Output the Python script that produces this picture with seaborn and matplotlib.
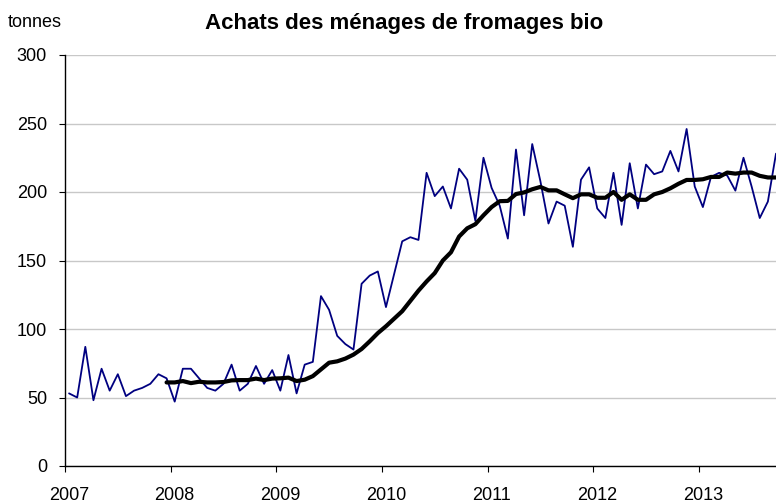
import numpy as np
import pandas as pd
import matplotlib
matplotlib.use("Agg")
import matplotlib.pyplot as plt
import matplotlib.transforms as mtransforms
import seaborn as sns

# 4-week periods (13 per year), starting 2007 P1
achats = [53, 50, 87, 48, 71, 55, 67, 51, 55, 57, 60, 67, 64,
          47, 71, 71, 64, 57, 55, 60, 74, 55, 60, 73, 60, 70,
          55, 81, 53, 74, 76, 124, 114, 95, 89, 85, 133, 139, 142,
          116, 140, 164, 167, 165, 214, 197, 204, 188, 217, 209, 179, 225,
          203, 190, 166, 231, 183, 235, 208, 177, 193, 190, 160, 209, 218,
          188, 181, 214, 176, 221, 188, 220, 213, 215, 230, 215, 246, 204,
          189, 211, 214, 212, 201, 225, 204, 181, 193, 228]

# moving average over 13 periods, first value at period index 12
moyenne_mobile = [61, 61, 62, 60.5, 61.5, 61, 61, 61.3, 62.5, 62.7, 62.7, 63.8, 62.7,
                  63.8, 64, 64.5, 62, 63, 65.6, 70.5, 75.4, 76.4, 78.4, 81.3, 85.4, 91,
                  97, 102, 107.5, 113, 120.5, 128, 134.7, 140.8, 150, 156, 167.5, 173.5, 176.5,
                  183, 189, 193.3, 193.5, 198.5, 199.7, 202, 203.7, 201.2, 201.2, 198.3, 195.5,
                  198.3, 198.3, 195.8, 195.8, 200, 194.3, 198.3, 194.3, 194.3, 198.3, 200,
                  202.7, 206, 208.8, 208.8, 209.3, 211, 211, 214.2, 213.4, 214.2, 214.2,
                  211.8, 210.6, 210.6]
mm_start = 12

annees = ["2007", "2008", "2009", "2010", "2011", "2012", "2013"]
periodes_par_an = 13

df = pd.DataFrame({"periode": np.arange(len(achats)), "tonnes": achats})
df_mm = pd.DataFrame({"periode": np.arange(mm_start, mm_start + len(moyenne_mobile)),
                      "tonnes": moyenne_mobile})

sns.set_style("white")
plt.rcParams["font.family"] = ["Liberation Sans", "DejaVu Sans"]
plt.rcParams["text.color"] = "black"

fig = plt.figure(figsize=(7.76, 5.04), dpi=100)
ax = fig.add_axes([65 / 776, 1 - 466 / 504, 711 / 776, (466 - 55) / 504])

sns.lineplot(data=df, x="periode", y="tonnes", ax=ax, color="#000080",
             linewidth=1.3, estimator=None, sort=False)
sns.lineplot(data=df_mm, x="periode", y="tonnes", ax=ax, color="black",
             linewidth=3.0, estimator=None, sort=False)

ax.set_xlim(-0.5, 87.0)
ax.set_ylim(0, 300)
ax.set_yticks(np.arange(0, 301, 50))
ax.set_xticks([k * periodes_par_an - 0.5 for k in range(len(annees))])
ax.set_xticklabels(annees)
ax.set_xlabel("")
ax.set_ylabel("")

ax.yaxis.grid(True, color="#c8c8c8", linewidth=1.0)
ax.xaxis.grid(False)
ax.set_axisbelow(True)

for s in ["top", "right"]:
    ax.spines[s].set_visible(False)
for s in ["left", "bottom"]:
    ax.spines[s].set_color("black")
    ax.spines[s].set_linewidth(1.0)

ax.tick_params(axis="both", which="major", direction="out", length=4,
               width=0.8, color="black", labelsize=13, labelcolor="black")
ax.tick_params(axis="y", left=True, pad=9)
ax.tick_params(axis="x", bottom=True, pad=11)

offset = mtransforms.ScaledTranslation(4 / 100, 0, fig.dpi_scale_trans)
for lab in ax.get_xticklabels():
    lab.set_transform(lab.get_transform() + offset)

fig.text(0.521, 0.954, "Achats des ménages de fromages bio", ha="center",
         va="center", fontsize=16, fontweight="bold", color="black")
fig.text(0.010, 0.956, "tonnes", ha="left", va="center", fontsize=13, color="black")

fig.savefig("out.png", dpi=100)
